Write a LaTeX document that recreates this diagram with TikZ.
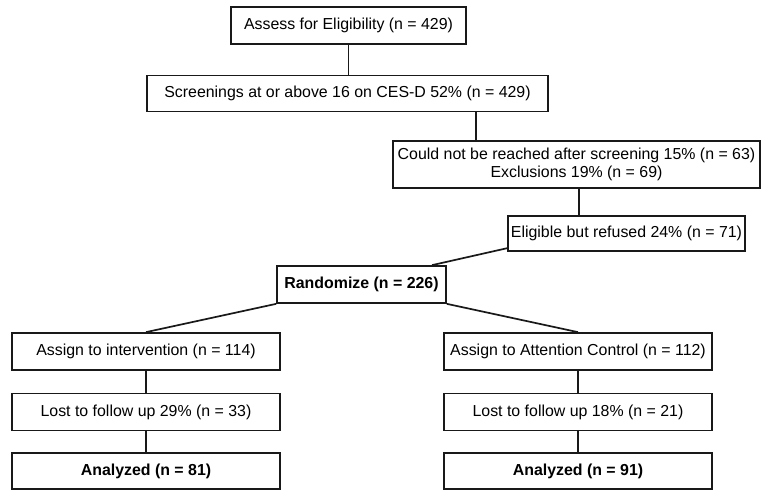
\documentclass[tikz,border=0pt]{standalone}
\usepackage{fontspec}
\setmainfont{Liberation Sans}
\begin{document}
\begin{tikzpicture}[x=1pt,y=-1pt,
  box/.style={draw=black!90, line width=1.7pt, inner sep=0pt, align=center,
              font=\fontsize{15.9}{18.5}\selectfont},
  link/.style={draw=black!90, line width=1.7pt}]
\useasboundingbox (0,0) rectangle (761,492);
\fill[white] (0,0) rectangle (761,492);
\node[box, minimum width=235, minimum height=37] (assess) at (348.5,25.5) {Assess for Eligibility (n = 429)};
\node[box, minimum width=401, minimum height=36] (screen) at (347.5,93.5) {Screenings at or above 16 on CES-D 52\% (n = 429)};
\node[box, minimum width=367, minimum height=47] (reach) at (576.5,164.5) {Could not be reached after screening 15\% (n = 63)\\Exclusions 19\% (n = 69)};
\node[box, minimum width=237, minimum height=35] (refused) at (626.5,233.5) {Eligible but refused 24\% (n = 71)};
\node[box, minimum width=169, minimum height=37] (rand) at (361.5,284.5) {\bfseries Randomize (n = 226)};
\node[box, minimum width=268, minimum height=37] (int) at (146,351.5) {Assign to intervention (n = 114)};
\node[box, minimum width=268, minimum height=37] (ctrl) at (578,351.5) {Assign to Attention Control (n = 112)};
\node[box, minimum width=268, minimum height=37] (lost1) at (146,412) {Lost to follow up 29\% (n = 33)};
\node[box, minimum width=268, minimum height=37] (lost2) at (578,412) {Lost to follow up 18\% (n = 21)};
\node[box, minimum width=268, minimum height=36] (an1) at (146,471) {\bfseries Analyzed (n = 81)};
\node[box, minimum width=268, minimum height=36] (an2) at (578,471) {\bfseries Analyzed (n = 91)};
\coordinate (c1) at (476,0);
\coordinate (c2) at (579,0);
\coordinate (c3) at (432,0);
\coordinate (c4) at (508,248);
\draw[link] (assess.south) -- (screen.north -| assess.south);
\draw[link] (screen.south -| c1) -- (reach.north -| c1);
\draw[link] (reach.south -| c2) -- (refused.north -| c2);
\draw[link] (c4) -- (rand.north -| c3);
\draw[link] (rand.south west) -- (int.north);
\draw[link] (rand.south east) -- (ctrl.north);
\draw[link] (int.south) -- (lost1.north);
\draw[link] (lost1.south) -- (an1.north);
\draw[link] (ctrl.south) -- (lost2.north);
\draw[link] (lost2.south) -- (an2.north);
\end{tikzpicture}
\end{document}
